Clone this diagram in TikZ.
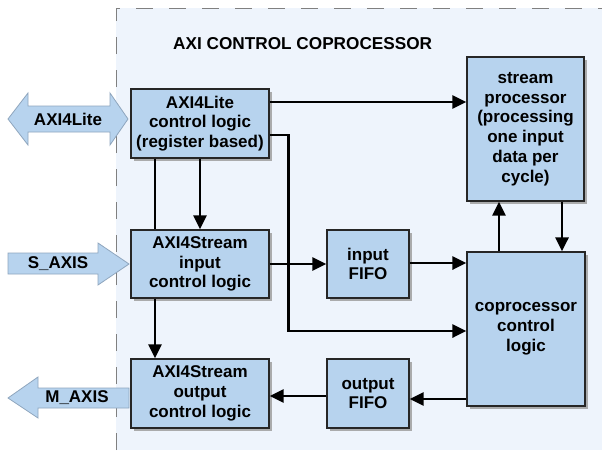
\documentclass[tikz,border=0pt]{standalone}
\usepackage{fontspec}
\setmainfont{Liberation Sans}
\usetikzlibrary{arrows.meta,shadows,calc}
\definecolor{bgc}{HTML}{EEF4FC}
\definecolor{boxc}{HTML}{B7D3EE}
\definecolor{fatedge}{HTML}{8FA6BE}
\definecolor{dashc}{HTML}{808080}
\begin{document}
\begin{tikzpicture}[x=1pt,y=-1pt,
  blk/.style={draw=black!85, line width=1.2pt, fill=boxc, align=center, inner sep=0pt,
    font=\fontsize{17}{19.8}\selectfont\bfseries,
    drop shadow={shadow xshift=2.5pt, shadow yshift=-2.5pt, fill=black!40, opacity=0.8}},
  conn/.style={line width=2.8pt, black},
  arr/.style={conn, -{Triangle[length=14pt,width=13pt]}},
  fat/.style={fill=boxc, draw=fatedge, line width=0.8pt},
  fatlbl/.style={font=\fontsize{17}{19.8}\selectfont\bfseries, inner sep=0pt}]
\useasboundingbox (0,0) rectangle (602,450);
\fill[white] (0,0) rectangle (602,450);
\fill[bgc] (116,8) rectangle (602,450);
\draw[dashc, line width=1pt, dash pattern=on 17pt off 16pt] (116,450) -- (116,8) -- (602,8);

\node[font=\fontsize{17.2}{20}\selectfont\bfseries, anchor=base west, inner sep=0pt] (title) at (173,49) {AXI CONTROL COPROCESSOR};

% fat arrows
\draw[fat] (8,119) -- (28,93) -- (28,106) -- (110,106) -- (110,93) -- (128,119) -- (110,145) -- (110,132) -- (28,132) -- (28,145) -- cycle;
\node[fatlbl] (lbllite) at (68,119) {AXI4Lite};
\draw[fat] (8,253) -- (98,253) -- (98,243) -- (129,264) -- (98,285) -- (98,274) -- (8,274) -- cycle;
\node[fatlbl] (lblsaxis) at (58,264) {S\_AXIS};
\draw[fat] (129,388) -- (38,388) -- (38,377) -- (8,398) -- (38,418) -- (38,408) -- (129,408) -- cycle;
\node[fatlbl] (lblmaxis) at (77,398) {M\_AXIS};

% coordinates of box centres
\coordinate (cl) at (200,123.5);
\coordinate (ci) at (200,264);
\coordinate (co) at (200,393.5);

% blocks
\node[blk, minimum width=138pt, minimum height=69pt] (lite) at (cl) {AXI4Lite\\control logic\\(register based)};
\node[blk, minimum width=138pt, minimum height=68pt] (sin) at (ci) {AXI4Stream\\input\\control logic};
\node[blk, minimum width=138pt, minimum height=69pt] (sout) at (co) {AXI4Stream\\output\\control logic};
\node[blk, minimum width=82pt, minimum height=68pt] (ififo) at (368,264) {input\\FIFO};
\node[blk, minimum width=82pt, minimum height=69pt] (ofifo) at (368,393.5) {output\\FIFO};
\node[blk, minimum width=117pt, minimum height=144pt] (sp) at (525.5,129) {stream\\processor\\(processing\\one input\\data per\\cycle)};
\node[blk, minimum width=118pt, minimum height=154pt] (cp) at (526,329) {coprocessor\\control\\logic};

% connectors
\draw[arr] ([yshift=21.5pt]lite.east) -- ([yshift=21.5pt]lite.east -| sp.west);
\draw[arr] ([yshift=-11.5pt]lite.east) -- ++(19pt,0) |- ([yshift=-2pt]cp.west);
\draw[arr] (lite.south) -- (sin.north);
\draw[conn] ([xshift=-45pt]lite.south) -- ([xshift=-45pt]sin.north);
\draw[arr] ([xshift=-45pt]sin.south) -- ([xshift=-45pt]sout.north);
\draw[arr] (sin.east) -- (ififo.west);
\draw[arr] ([yshift=1pt]ififo.east) -- ([yshift=1pt]ififo.east -| cp.west);
\draw[arr] ([xshift=-27pt]cp.north) -- ([xshift=-27pt]cp.north |- sp.south);
\draw[arr] ([xshift=36.5pt]sp.south) -- ([xshift=36.5pt]sp.south |- cp.north);
\draw[arr] ([yshift=-70pt]cp.west) -- ([yshift=-70pt]cp.west -| ofifo.east);
\draw[arr] ([yshift=-2.5pt]ofifo.west) -- ([yshift=-2.5pt]ofifo.west -| sout.east);
\end{tikzpicture}
\end{document}
